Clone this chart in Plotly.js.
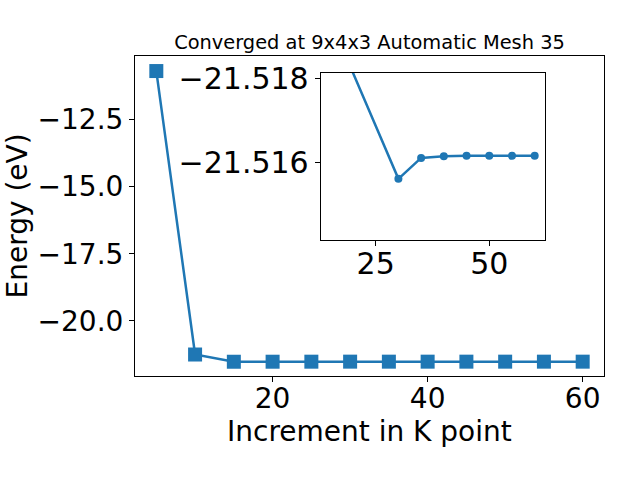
<!DOCTYPE html>
<html><head><meta charset="utf-8">
<script src="https://cdn.plot.ly/plotly-3.0.1.min.js"></script>
<style>body{margin:0}#c{width:640px;height:480px}</style>
</head><body><div id="c"></div>
<script>
const kPoints = [5, 10, 15, 20, 25, 30, 35, 40, 45, 50, 55, 60];
const energy = [-10.70, -21.25, -21.5194, -21.5182, -21.5170, -21.5156, -21.5161, -21.51614, -21.51615, -21.51615, -21.51615, -21.51615];
const insetK = [15, 30, 35, 40, 45, 50, 55, 60];
const insetE = [-21.5194, -21.5156, -21.5161, -21.51614, -21.51615, -21.51615, -21.51615, -21.51615];
const mainXTicks = [20, 40, 60];
const mainYTicks = [-20, -17.5, -15, -12.5];
const insetXTicks = [25, 50];
const insetYTicks = [-21.518, -21.516];
const titleText = 'Converged at 9x4x3 Automatic Mesh 35';
const xLabel = 'Increment in K point';
const yLabel = 'Energy (eV)';

const blue = '#1f77b4';
const font = 'DejaVu Sans, sans-serif';
const W = 640, H = 480;
const px = v => v / W, py = v => 1 - v / H;

const traces = [
  {x: kPoints, y: energy, type: 'scatter', mode: 'lines+markers', xaxis: 'x', yaxis: 'y',
   line: {color: blue, width: 2.5}, marker: {symbol: 'square', size: 14, color: blue}},
  {x: insetK, y: insetE, type: 'scatter', mode: 'lines+markers', xaxis: 'x2', yaxis: 'y2',
   line: {color: blue, width: 2.5}, marker: {symbol: 'circle', size: 8, color: blue}, cliponaxis: true}
];

const axBase = {showline: true, linecolor: 'black', linewidth: 1, mirror: true, showgrid: false, zeroline: false,
  ticks: 'outside', ticklen: 5, tickwidth: 1, tickcolor: 'black', tickfont: {family: font, size: 28, color: 'black'}};
const insetFont = {family: font, size: 30, color: 'black'};

const layout = {
  width: W, height: H, margin: {l: 0, r: 0, t: 0, b: 0},
  paper_bgcolor: 'white', plot_bgcolor: 'white', showlegend: false,
  xaxis: Object.assign({}, axBase, {domain: [px(135), px(604)], range: [2.25, 62.75], tickvals: mainXTicks, anchor: 'y', ticklabelstandoff: -8}),
  yaxis: Object.assign({}, axBase, {domain: [py(376), py(56)], range: [-22.05, -10.14], tickvals: mainYTicks, tickformat: '.1f', anchor: 'x'}),
  xaxis2: Object.assign({}, axBase, {domain: [px(320.7), px(544.7)], range: [12.9, 62.2], tickvals: insetXTicks, anchor: 'y2', ticklabelstandoff: -8, tickfont: insetFont}),
  yaxis2: Object.assign({}, axBase, {domain: [py(240), py(72.5)], range: [-21.51414, -21.51814], tickvals: insetYTicks, tickformat: '.3f', anchor: 'x2', tickfont: insetFont}),
  title: {text: titleText, x: px(369.5), xanchor: 'center', y: py(42), yanchor: 'middle', font: {family: font, size: 19.4, color: 'black'}},
  annotations: [
    {text: xLabel, xref: 'paper', yref: 'paper', x: px(369.5), y: py(431), xanchor: 'center', yanchor: 'middle', showarrow: false, font: {family: font, size: 28, color: 'black'}},
    {text: yLabel, xref: 'paper', yref: 'paper', x: px(17), y: py(216.5), xanchor: 'center', yanchor: 'middle', textangle: -90, showarrow: false, font: {family: font, size: 28, color: 'black'}}
  ]
};
Plotly.newPlot('c', traces, layout, {displayModeBar: false});
</script></body></html>
